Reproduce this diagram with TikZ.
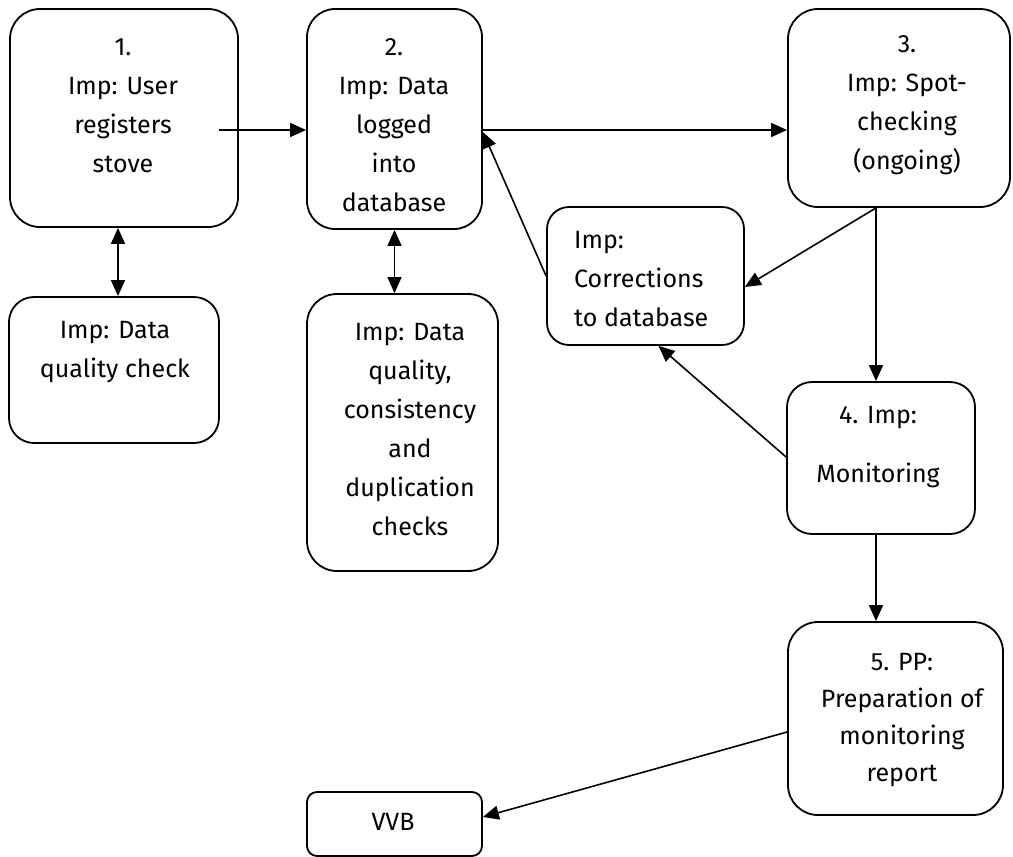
\documentclass[tikz,border=0pt]{standalone}
\usepackage{fontspec}
\setmainfont{Fira Sans}
\usetikzlibrary{arrows.meta}

\tikzstyle{stage}=[draw, rectangle, rounded corners=30pt,
                   line width=1.8pt, inner sep=0pt]
\tikzstyle{stagetext}=[inner sep=0pt, align=center,
                       font=\fontsize{25}{39}\selectfont]
\tikzstyle{flow}=[line width=1.6pt, -{Triangle[length=16pt,width=14pt]}]
\tikzstyle{twoway}=[line width=1.6pt,
                    {Triangle[length=16pt,width=14pt]}-{Triangle[length=16pt,width=14pt]}]

\begin{document}
\begin{tikzpicture}[x=1pt,y=-1pt]
    \useasboundingbox (0,0) rectangle (1013,857);

    % boxes, placed at their centres (pixel grid, y downwards)
    \node[stage, minimum width=228pt, minimum height=218pt] (reg) at (124,118) {};
    \node[stage, rounded corners=28pt, minimum width=175pt, minimum height=220pt] (log) at (394.5,119) {};
    \node[stage, minimum width=222pt, minimum height=198pt] (spot) at (899,108) {};
    \node[stage, rounded corners=22pt, minimum width=197pt, minimum height=138pt] (corr) at (645.5,276) {};
    \node[stage, rounded corners=25pt, minimum width=188pt, minimum height=152pt] (mon) at (881,458) {};
    \node[stage, minimum width=215pt, minimum height=193pt] (rep) at (895.5,718.5) {};
    \node[stage, rounded corners=25pt, minimum width=210pt, minimum height=146pt] (qc) at (114,370) {};
    \node[stage, minimum width=191pt, minimum height=277pt] (dup) at (402.5,432.5) {};
    \node[stage, rounded corners=10pt, minimum width=175pt, minimum height=64pt] (vvb) at (394.5,824) {};

    % texts
    \node[stagetext] (regtext) at (123,106) {1.\\Imp: User\\registers\\stove};
    \node[stagetext] (logtext) at (394,125) {2.\\Imp: Data\\logged\\into\\database};
    \node[stagetext] (spottext) at (907,105) {3.\\Imp: Spot-\\checking\\(ongoing)};
    \node[stagetext, align=left, anchor=west] (corrtext) at (574,279) {Imp:\\Corrections\\to database};
    \node[stagetext] (montext) at (878,447.5) {4. Imp:\\[20pt]Monitoring};
    \node[stagetext, font=\fontsize{25}{37}\selectfont] (reptext) at (902,720) {5. PP:\\Preparation of\\monitoring\\report};
    \node[stagetext] (qctext) at (115,352) {Imp: Data\\quality check};
    \node[stagetext] (duptext) at (410,430) {Imp: Data\\quality,\\consistency\\and\\duplication\\checks};
    \node[stagetext] (vvbtext) at (393,822) {VVB};

    % connectors
    \coordinate (start) at (219,130);
    \draw[flow] (start) -- (start -| log.west);
    \draw[flow] ([yshift=-11pt]log.east) -- ([yshift=-11pt]log.east -| spot.west);
    \draw[twoway] ([xshift=-6pt]reg.south) -- ([xshift=-6pt]reg.south |- qc.north);
    \draw[twoway] (log.south) -- (log.south |- dup.north);
    \draw[flow] (corr.west) -- ([yshift=-13pt]log.east);
    \draw[flow] ([xshift=-23pt]spot.south) -- ([yshift=-11pt]corr.east);
    \draw[flow] ([xshift=-23pt]spot.south) -- ([xshift=-23pt]spot.south |- mon.north);
    \draw[flow] ([yshift=1pt]mon.west) -- ([xshift=13pt]corr.south);
    \draw[flow] ([xshift=-5pt]mon.south) -- ([xshift=-5pt]mon.south |- rep.north);
    \draw[flow] ([yshift=-13.5pt]rep.west) -- ([yshift=7pt]vvb.east);
\end{tikzpicture}
\end{document}
